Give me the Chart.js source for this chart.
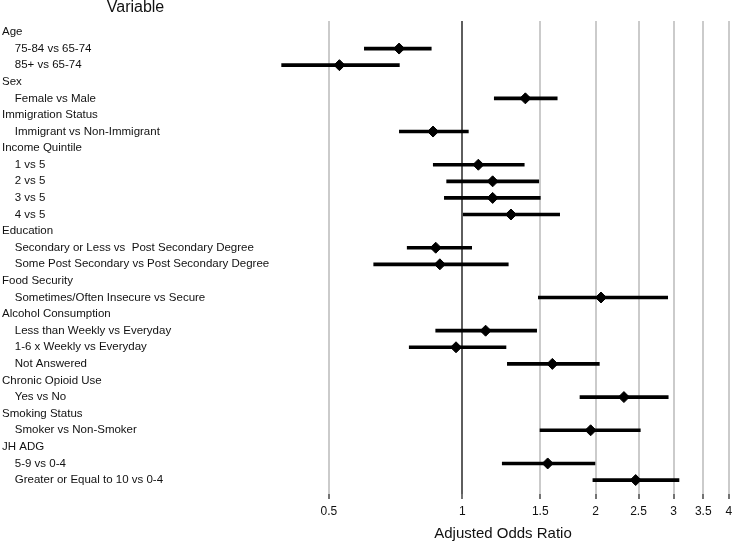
<!DOCTYPE html>
<html>
<head>
<meta charset="utf-8">
<script src="https://cdn.jsdelivr.net/npm/chart.js@4.4.1/dist/chart.umd.min.js"></script>
<style>
  html, body { margin: 0; padding: 0; background: #fff; }
  #wrap { width: 733px; height: 542px; }
</style>
</head>
<body>
<div id="wrap"><canvas id="forest"></canvas></div>
<script>
// rows of the forest plot, top to bottom (level 0 = group heading)
const rowLabels = [
  'Age', '75-84 vs 65-74', '85+ vs 65-74',
  'Sex', 'Female vs Male',
  'Immigration Status', 'Immigrant vs Non-Immigrant',
  'Income Quintile', '1 vs 5', '2 vs 5', '3 vs 5', '4 vs 5',
  'Education', 'Secondary or Less vs  Post Secondary Degree', 'Some Post Secondary vs Post Secondary Degree',
  'Food Security', 'Sometimes/Often Insecure vs Secure',
  'Alcohol Consumption', 'Less than Weekly vs Everyday', '1-6 x Weekly vs Everyday', 'Not Answered',
  'Chronic Opioid Use', 'Yes vs No',
  'Smoking Status', 'Smoker vs Non-Smoker',
  'JH ADG', '5-9 vs 0-4', 'Greater or Equal to 10 vs 0-4'
];
const rowLevel = [0,1,1, 0,1, 0,1, 0,1,1,1,1, 0,1,1, 0,1, 0,1,1,1, 0,1, 0,1, 0,1,1];

const oddsRatio = [null,0.72,0.528, null,1.388, null,0.859, null,1.087,1.171,1.171,1.288,
  null,0.871,0.89, null,2.057, null,1.129,0.968,1.597, null,2.317, null,1.949, null,1.559,2.463];
const lowerCI = [null,0.601,0.391, null,1.181, null,0.721, null,0.86,0.922,0.911,1.005,
  null,0.751,0.631, null,1.485, null,0.871,0.759,1.264, null,1.844, null,1.498, null,1.231,1.972];
const upperCI = [null,0.851,0.721, null,1.638, null,1.032, null,1.38,1.488,1.5,1.659,
  null,1.05,1.27, null,2.909, null,1.472,1.255,2.039, null,2.917, null,2.523, null,1.993,3.085];

const xTicks = [0.5, 1, 1.5, 2, 2.5, 3, 3.5, 4];

const points = [];
const intervals = [];
rowLabels.forEach((lab, i) => {
  if (oddsRatio[i] == null) return;
  points.push({ x: oddsRatio[i], y: i });
  intervals.push({ x: [lowerCI[i], upperCI[i]], y: i });
});

const headerPlugin = {
  id: 'variableHeader',
  afterDraw(chart) {
    const ys = chart.scales.y;
    const c = chart.ctx;
    c.save();
    c.font = '16px "Liberation Sans", Arial, sans-serif';
    c.fillStyle = '#111';
    c.textAlign = 'center';
    c.textBaseline = 'middle';
    c.fillText('Variable', (ys.left + ys.right) / 2 - 3, 8);
    c.restore();
  }
};

new Chart(document.getElementById('forest'), {
  type: 'bar',
  data: {
    datasets: [
      {
        type: 'scatter',
        data: points,
        pointStyle: 'rectRot',
        pointRadius: 5.5,
        pointBackgroundColor: '#000',
        pointBorderColor: '#000',
        pointBorderWidth: 1,
        order: 0
      },
      {
        type: 'bar',
        indexAxis: 'y',
        data: intervals,
        backgroundColor: '#000',
        borderWidth: 0,
        barThickness: 3,
        order: 1
      }
    ]
  },
  options: {
    responsive: true,
    maintainAspectRatio: false,
    animation: false,
    layout: { autoPadding: false, padding: { left: 2, right: 2, top: 21, bottom: 0 } },
    plugins: {
      legend: { display: false },
      tooltip: { enabled: false }
    },
    scales: {
      x: {
        type: 'logarithmic',
        min: 0.3777,
        max: 4.043,
        bounds: 'data',
        offset: false,
        beginAtZero: false,
        afterBuildTicks: s => { s.ticks = xTicks.map(v => ({ value: v })); },
        afterFit: s => { s.height = 48; s.paddingLeft = 0; s.paddingRight = 0; },
        border: { display: false },
        grid: {
          offset: false,
          color: c => (c.tick && c.tick.value === 1) ? '#5e5e5e' : '#cbcbcb',
          lineWidth: 2,
          drawTicks: true,
          tickLength: 5,
          tickColor: '#444',
          tickWidth: 1.5
        },
        ticks: {
          autoSkip: false,
          padding: 5,
          color: '#111',
          font: { family: '"Liberation Sans", Arial, sans-serif', size: 12 },
          callback: v => String(v)
        },
        title: {
          display: true,
          text: 'Adjusted Odds Ratio',
          color: '#111',
          padding: { top: 0, bottom: 0 },
          font: { family: '"Liberation Sans", Arial, sans-serif', size: 15, lineHeight: 1.05 }
        }
      },
      y: {
        type: 'linear',
        reverse: true,
        min: -0.66,
        max: 27.84,
        bounds: 'data',
        offset: false,
        afterBuildTicks: s => { s.ticks = rowLabels.map((_, i) => ({ value: i })); },
        afterFit: s => { s.width = 273; },
        border: { display: false },
        grid: { display: false },
        ticks: {
          autoSkip: false,
          crossAlign: 'far',
          color: '#111',
          font: { family: '"Liberation Sans", Arial, sans-serif', size: 11.5 },
          callback: v => (rowLevel[v] ? '    ' : '') + rowLabels[v]
        }
      }
    }
  },
  plugins: [headerPlugin]
});
</script>
</body>
</html>
